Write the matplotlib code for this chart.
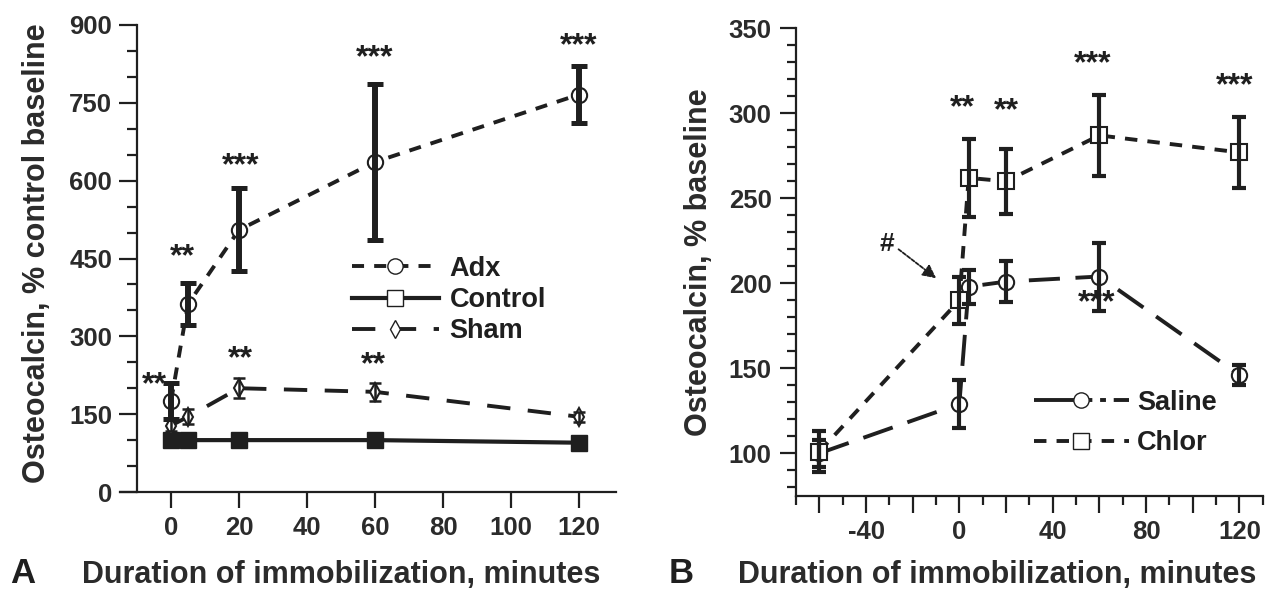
import matplotlib
matplotlib.use('Agg')
import matplotlib.pyplot as plt
from matplotlib.lines import Line2D
from matplotlib.ticker import MultipleLocator, FixedLocator, FuncFormatter

plt.rcParams['font.family'] = ['Liberation Sans', 'DejaVu Sans']
plt.rcParams['font.weight'] = 'bold'

# panel A: osteocalcin, % control baseline
a_x = [0, 5, 20, 60, 120]
adx_y = [175, 362, 505, 636, 766]
adx_err = [35, 40, 80, 150, 55]
control_y = [100, 100, 100, 100, 95]
sham_y = [128, 145, 200, 193, 145]
sham_err = [10, 14, 19, 17, 10]
a_stars = [(3.5, 452, '**'), (20.5, 627, '***'), (60, 835, '***'), (120, 860, '***'),
           (20.5, 255, '**'), (59.5, 245, '**'), (-5, 205, '**')]

# panel B: osteocalcin, % baseline
b_x = [-60, 0, 4, 20, 60, 120]
saline_y = [100, 129, 198, 201, 204, 146]
saline_err = [8, 14, 10, 12, 20, 6]
chlor_y = [101, 190, 262, 260, 287, 277]
chlor_err = [12, 14, 23, 19, 24, 21]
b_stars = [(1.5, 303, '**'), (20, 301, '**'), (57, 329, '***'), (118, 316, '***'),
           (59, 188, '***')]

ink = '#1f1f1f'
txt = '#2b2b2b'

fig = plt.figure(figsize=(12.67, 5.92), dpi=100)
ax_a = fig.add_axes([120 / 1267, 100 / 592, 496.4 / 1267, 467 / 592])
ax_b = fig.add_axes([796 / 1267, 96.2 / 592, 466.7 / 1267, 467.5 / 592])


def style_axes(ax):
    for side in ['top', 'right']:
        ax.spines[side].set_visible(False)
    for side in ['left', 'bottom']:
        ax.spines[side].set_linewidth(1.6)
        ax.spines[side].set_color(ink)
    ax.tick_params(which='both', direction='out', width=1.6, color=ink,
                   labelsize=18.5, labelcolor=txt)
    for lab in ax.get_xticklabels() + ax.get_yticklabels():
        lab.set_fontweight('bold')


# ---- panel A ----
ax = ax_a
ax.plot(a_x, control_y, color=ink, lw=3, marker='s', ms=12, mfc=ink, mec=ink, zorder=3)
ax.plot(a_x, sham_y, color=ink, lw=2.8, dashes=(6, 4.5), marker='d', ms=9,
        mfc='white', mec=ink, mew=1.5, zorder=3)
ax.errorbar(a_x, sham_y, yerr=sham_err, fmt='none', ecolor=ink, elinewidth=1.8,
            capsize=4, capthick=1.8, zorder=4)
ax.plot(a_x, adx_y, color=ink, lw=2.8, dashes=(3.1, 2.6), marker='o', ms=11,
        mfc='white', mec=ink, mew=1.5, zorder=3)
ax.errorbar(a_x, adx_y, yerr=adx_err, fmt='none', ecolor=ink, elinewidth=4.3,
            capsize=5.8, capthick=3.6, zorder=4)
for x, y, s in a_stars:
    ax.text(x, y, s, ha='center', va='center', fontsize=23, color=ink, fontweight='bold')

ax.set_xlim(-15, 131)
ax.set_ylim(0, 900)
ax.spines['left'].set_position(('data', -10))
ax.xaxis.set_major_locator(FixedLocator([0, 20, 40, 60, 80, 100, 120]))
ax.yaxis.set_major_locator(MultipleLocator(150))
ax.yaxis.set_minor_locator(MultipleLocator(50))
style_axes(ax)
ax.tick_params(axis='x', which='major', length=11.5, pad=6)
ax.tick_params(axis='y', which='major', length=13, pad=5)
ax.tick_params(axis='y', which='minor', length=7.5)

handles_a = [
    Line2D([], [], color=ink, lw=2.8, dashes=(3.1, 2.6), marker='o', ms=11, mfc='white', mec=ink),
    Line2D([], [], color=ink, lw=3, marker='s', ms=12, mfc='white', mec=ink),
    Line2D([], [], color=ink, lw=2.8, dashes=(6, 4.5), marker='d', ms=9, mfc='white', mec=ink),
]
leg = ax.legend(handles_a, ['Adx', 'Control', 'Sham'], loc='center left',
                bbox_to_anchor=(352 / 1267, 1 - 300 / 592), bbox_transform=fig.transFigure,
                frameon=False, borderpad=0, borderaxespad=0, handlelength=3.2,
                handletextpad=0.4, labelspacing=0.2, fontsize=19.5)
for t in leg.get_texts():
    t.set_color(ink)
    t.set_fontweight('bold')

# ---- panel B ----
ax = ax_b
ax.plot(b_x, saline_y, color=ink, lw=2.8, dashes=(8, 4), marker='o', ms=11,
        mfc='white', mec=ink, mew=1.5, zorder=3)
ax.plot(b_x, chlor_y, color=ink, lw=2.8, dashes=(3.2, 2.6), marker='s', ms=12,
        mfc='white', mec=ink, mew=1.5, zorder=3)
ax.errorbar(b_x, saline_y, yerr=saline_err, fmt='none', ecolor=ink, elinewidth=3,
            capsize=5, capthick=3, zorder=4)
ax.errorbar(b_x, chlor_y, yerr=chlor_err, fmt='none', ecolor=ink, elinewidth=3,
            capsize=5, capthick=3, zorder=4)
for x, y, s in b_stars:
    ax.text(x, y, s, ha='center', va='center', fontsize=23, color=ink, fontweight='bold')
ax.text(-31, 223, '#', ha='center', va='center', fontsize=19, color=ink, fontweight='bold')
ax.annotate('', xy=(-9, 202), xytext=(-27, 221),
            arrowprops=dict(arrowstyle='-|>', color=ink, lw=1.3, linestyle=(0, (2, 1)),
                            mutation_scale=20))

ax.set_xlim(-70, 130)
ax.set_ylim(75, 350)
ax.xaxis.set_major_locator(MultipleLocator(20, offset=0))
ax.xaxis.set_minor_locator(MultipleLocator(10))
ax.xaxis.set_major_formatter(FuncFormatter(lambda v, p: f'{v:.0f}' if round(v) % 40 == 0 else ''))
ax.yaxis.set_major_locator(MultipleLocator(50))
ax.yaxis.set_minor_locator(MultipleLocator(10))
style_axes(ax)
ax.tick_params(axis='x', which='major', length=12.5, pad=5)
ax.tick_params(axis='x', which='minor', length=6.5)
ax.tick_params(axis='y', which='major', length=11.5, pad=6)
ax.tick_params(axis='y', which='minor', length=6.5)

handles_b = [
    Line2D([], [], color=ink, lw=2.8, dashes=(15, 2, 1.5, 2), marker='o', ms=11, mfc='white', mec=ink),
    Line2D([], [], color=ink, lw=2.8, dashes=(3.2, 2.6), marker='s', ms=12, mfc='white', mec=ink),
]
leg = ax.legend(handles_b, ['Saline', 'Chlor'], loc='center left',
                bbox_to_anchor=(1034 / 1267, 1 - 423 / 592), bbox_transform=fig.transFigure,
                frameon=False, borderpad=0, borderaxespad=0, handlelength=3.5,
                handletextpad=0.3, labelspacing=0.55, fontsize=19.5)
for t in leg.get_texts():
    t.set_color(ink)
    t.set_fontweight('bold')

# axis titles
fig.text(37 / 1267, 1 - 253 / 592, 'Osteocalcin, % control baseline', rotation=90,
         ha='center', va='center', fontsize=22, color=txt, fontweight='bold')
fig.text(699 / 1267, 1 - 262 / 592, 'Osteocalcin, % baseline', rotation=90,
         ha='center', va='center', fontsize=22, color=txt, fontweight='bold')
fig.text(10 / 1267, 1 - 583 / 592, 'A', ha='left', va='baseline', fontsize=25,
         color=ink, fontweight='bold')
fig.text(82 / 1267, 1 - 583 / 592, 'Duration of immobilization, minutes', ha='left',
         va='baseline', fontsize=22, color=txt, fontweight='bold')
fig.text(669 / 1267, 1 - 583 / 592, 'B', ha='left', va='baseline', fontsize=25,
         color=ink, fontweight='bold')
fig.text(738 / 1267, 1 - 583 / 592, 'Duration of immobilization, minutes', ha='left',
         va='baseline', fontsize=22, color=txt, fontweight='bold')

fig.savefig('out.png', dpi=100, facecolor='white')
